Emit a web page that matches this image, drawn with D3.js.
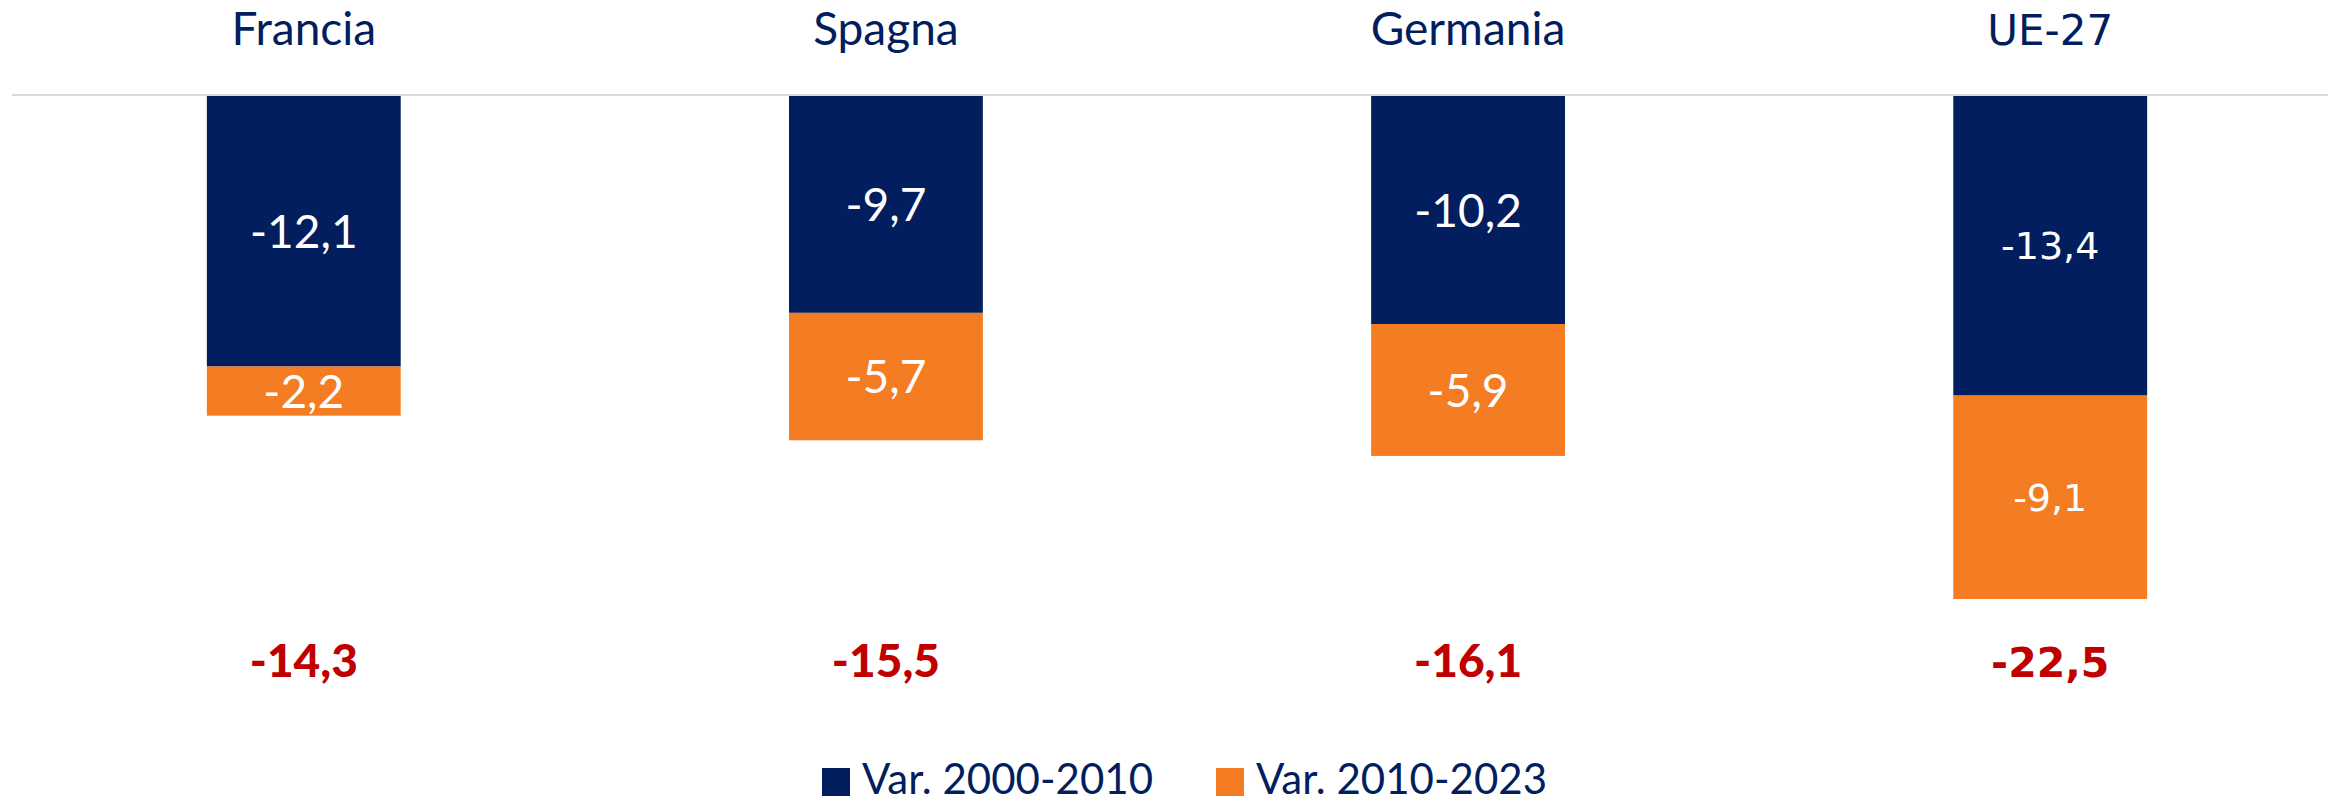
<!DOCTYPE html>
<html>
<head>
<meta charset="utf-8">
<script src="https://cdn.jsdelivr.net/npm/d3@7"></script>
<style>
  body { margin: 0; background: #fff; }
  text { font-family: Lato, "Noto Sans", sans-serif; }
</style>
</head>
<body>
<div id="chart"></div>
<script>
var categories = ["Francia", "Spagna", "Germania", "UE-27"];
var var2000_2010 = [-12.1, -9.7, -10.2, -13.4];
var var2010_2023 = [-2.2, -5.7, -5.9, -9.1];
var totals = [-14.3, -15.5, -16.1, -22.5];
var seriesNames = ["Var. 2000-2010", "Var. 2010-2023"];

(function stacked() {

  var width = 2351,
    height = 803;

  var navy = "#021e5e",
    orange = "#f47c22",
    red = "#c00000";

  var color = d3.scaleOrdinal()
    .domain(seriesNames)
    .range([navy, orange]);

  var locale = d3.formatLocale({
    decimal: ",",
    thousands: ".",
    grouping: [3],
    currency: ["", " €"],
    minus: "-"
  });
  var fmt = locale.format(".1f");

  // the UE-27 column is rendered in a different (Verdana-like) face in the original
  function fontFor(i) {
    return i === 3 ? "'DejaVu Sans', Verdana, sans-serif" : "Lato, 'Noto Sans', sans-serif";
  }

  var x = d3.scaleBand()
    .domain(categories)
    .range([13, 2341])
    .paddingInner(0.667)
    .paddingOuter(0.333);

  var y = d3.scaleLinear()
    .domain([0, -22.5])
    .range([96, 599]);

  var svg = d3.select("#chart").append("svg")
    .attr("width", width)
    .attr("height", height);

  var data = categories.map(function(c, i) {
    return {
      cat: c,
      i: i,
      segs: [
        { name: seriesNames[0], y0: 0, y1: var2000_2010[i], v: var2000_2010[i] },
        { name: seriesNames[1], y0: var2000_2010[i], y1: var2000_2010[i] + var2010_2023[i], v: var2010_2023[i] }
      ],
      total: totals[i]
    };
  });

  // zero line
  svg.append("line")
    .attr("x1", 12)
    .attr("x2", 2328)
    .attr("y1", y(0) - 1)
    .attr("y2", y(0) - 1)
    .attr("stroke", "#d9d9d9")
    .attr("stroke-width", 2);

  var col = svg.selectAll(".col")
    .data(data)
    .enter()
    .append("g")
    .attr("class", "col");

  // category names on top
  col.append("text")
    .text(function(d) { return d.cat; })
    .attr("x", function(d) { return x(d.cat) + x.bandwidth() / 2; })
    .attr("y", 45)
    .attr("text-anchor", "middle")
    .attr("fill", navy)
    .style("font-family", function(d) { return fontFor(d.i); })
    .style("font-size", function(d) { return d.i === 3 ? "42px" : "46px"; });

  var seg = col.selectAll(".seg")
    .data(function(d) {
      return d.segs.map(function(s) { s.cat = d.cat; s.i = d.i; return s; });
    })
    .enter()
    .append("g")
    .attr("class", "seg");

  seg.append("rect")
    .attr("x", function(d) { return x(d.cat); })
    .attr("width", x.bandwidth())
    .attr("y", function(d) { return y(d.y0); })
    .attr("height", function(d) { return y(d.y1) - y(d.y0); })
    .attr("fill", function(d) { return color(d.name); });

  seg.append("text")
    .text(function(d) { return fmt(d.v); })
    .attr("x", function(d) { return x(d.cat) + x.bandwidth() / 2; })
    .attr("y", function(d) { return (y(d.y0) + y(d.y1)) / 2; })
    .attr("dy", "0.36em")
    .attr("text-anchor", "middle")
    .attr("fill", "#fff")
    .style("font-family", function(d) { return fontFor(d.i); })
    .style("font-size", function(d) { return d.i === 3 ? "38px" : "46px"; });

  // totals
  col.append("text")
    .text(function(d) { return fmt(d.total); })
    .attr("x", function(d) { return x(d.cat) + x.bandwidth() / 2; })
    .attr("y", 677)
    .attr("text-anchor", "middle")
    .attr("fill", red)
    .style("font-weight", "900")
    .style("font-family", function(d) { return fontFor(d.i); })
    .style("font-size", function(d) { return d.i === 3 ? "41px" : "46px"; });

  // legend
  var legend = svg.selectAll(".legend")
    .data(seriesNames)
    .enter()
    .append("g")
    .attr("class", "legend")
    .attr("transform", function(d, i) {
      return "translate(" + (822 + i * 394) + ",768)";
    });

  legend.append("rect")
    .attr("width", 28)
    .attr("height", 28)
    .attr("fill", function(d) { return color(d); });

  legend.append("text")
    .text(function(d) { return d; })
    .attr("x", 40)
    .attr("y", 26)
    .attr("fill", navy)
    .style("font-size", "42px");
})();
</script>
</body>
</html>
